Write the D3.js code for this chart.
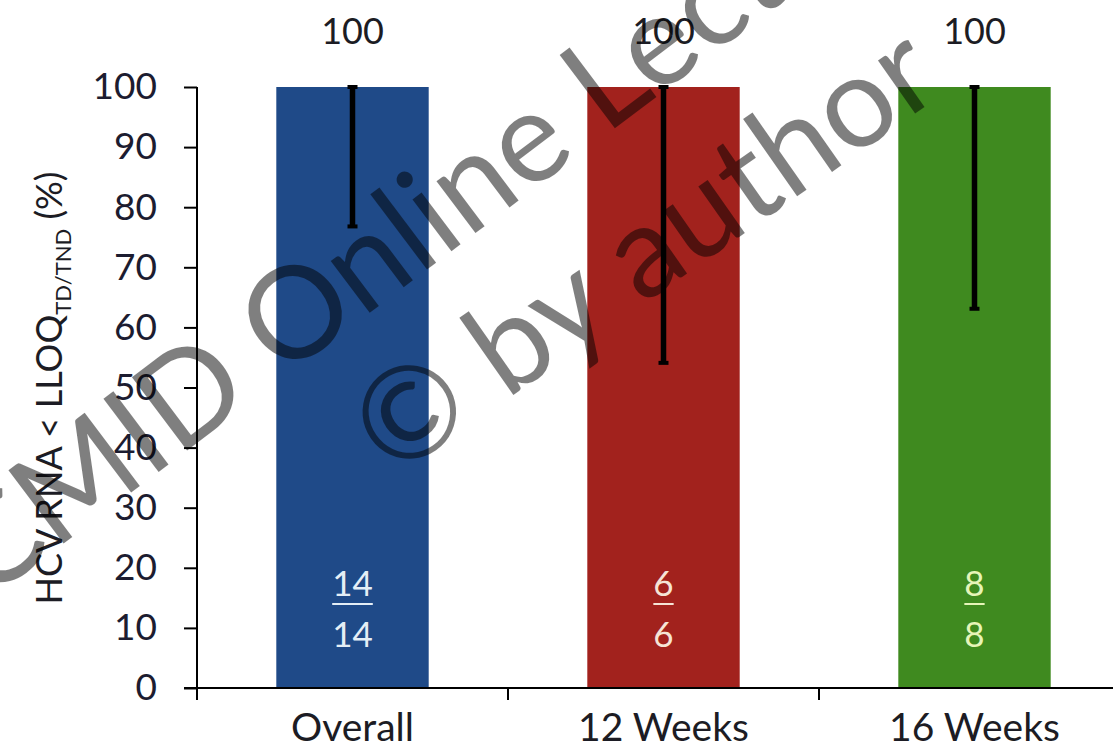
<!DOCTYPE html>
<html>
<head>
<meta charset="utf-8">
<script src="https://cdn.jsdelivr.net/npm/d3@7"></script>
<style>
  html, body { margin: 0; padding: 0; background: #fff; }
  svg { display: block; }
  text { font-family: Lato, "Open Sans", "Liberation Sans", sans-serif; }
</style>
</head>
<body>
<svg id="chart" width="1113" height="750"></svg>
<script>
// Response rates by treatment duration
const categories = ["Overall", "12 Weeks", "16 Weeks"];
const percentValues = [100, 100, 100];
const ciLower = [76.8, 54.1, 63.1];
const responders = [14, 6, 8];
const totals = [14, 6, 8];
const barColors = ["#1f4a88", "#a2221d", "#3f8a1f"];
const fractionColors = ["#e4eef6", "#f6e4d6", "#e6f5b8"];
const yTicks = [0, 10, 20, 30, 40, 50, 60, 70, 80, 90, 100];

const svg = d3.select("#chart");

const y = d3.scaleLinear().domain([0, 100]).range([688, 87]);
const x = d3.scaleBand().domain(categories).range([197, 1130])
  .paddingInner(0.51).paddingOuter(0.255);

// Bars
svg.append("g").selectAll("rect")
  .data(categories)
  .join("rect")
  .attr("x", d => x(d))
  .attr("width", x.bandwidth())
  .attr("y", (d, i) => y(percentValues[i]))
  .attr("height", (d, i) => y(0) - y(percentValues[i]))
  .attr("fill", (d, i) => barColors[i]);

// Error bars (lower confidence bound)
const eb = svg.append("g");
categories.forEach((c, i) => {
  const cx = x(c) + x.bandwidth() / 2;
  eb.append("line")
    .attr("x1", cx).attr("x2", cx)
    .attr("y1", y(percentValues[i])).attr("y2", y(ciLower[i]))
    .attr("stroke", "#000").attr("stroke-width", 5.5);
  [percentValues[i], ciLower[i]].forEach(v => {
    eb.append("line")
      .attr("x1", cx - 5).attr("x2", cx + 5)
      .attr("y1", y(v)).attr("y2", y(v))
      .attr("stroke", "#000").attr("stroke-width", 4);
  });
});

// Y axis
const yAxis = svg.append("g")
  .attr("transform", "translate(197,0)")
  .call(d3.axisLeft(y).tickValues(yTicks).tickSize(13).tickPadding(27));
yAxis.select(".domain").attr("stroke", "#000").attr("stroke-width", 2)
  .attr("d", `M0,${y(100)}V${y(0) + 12}`);
yAxis.selectAll(".tick line").attr("stroke", "#000").attr("stroke-width", 2);
yAxis.selectAll(".tick text")
  .attr("fill", "#1c1c30")
  .style("font-size", "37px")
  .style("font-family", "Lato, 'Open Sans', sans-serif");

// X axis baseline with category separators
const step = x.step();
const xBase = svg.append("g");
xBase.append("line")
  .attr("x1", 184).attr("x2", 1113)
  .attr("y1", y(0)).attr("y2", y(0))
  .attr("stroke", "#000").attr("stroke-width", 2);
const seps = categories.slice(0, -1).map(c => x(c) + x.bandwidth() + (step - x.bandwidth()) / 2);
xBase.selectAll(".sep")
  .data(seps)
  .join("line")
  .attr("x1", d => d).attr("x2", d => d)
  .attr("y1", y(0)).attr("y2", y(0) + 12)
  .attr("stroke", "#000").attr("stroke-width", 2);

// Category labels
svg.append("g").selectAll("text")
  .data(categories)
  .join("text")
  .attr("x", d => x(d) + x.bandwidth() / 2)
  .attr("y", 741)
  .attr("text-anchor", "middle")
  .attr("fill", "#1c1c24")
  .style("font-size", "39px")
  .text(d => d);

// Value labels above bars
svg.append("g").selectAll("text")
  .data(categories)
  .join("text")
  .attr("x", d => x(d) + x.bandwidth() / 2)
  .attr("y", 44)
  .attr("text-anchor", "middle")
  .attr("fill", "#1c1c24")
  .style("font-size", "36px")
  .text((d, i) => percentValues[i]);

// Fractions inside bars
const fr = svg.append("g");
categories.forEach((c, i) => {
  const cx = x(c) + x.bandwidth() / 2;
  const num = fr.append("text")
    .attr("x", cx).attr("y", 596)
    .attr("text-anchor", "middle")
    .attr("fill", fractionColors[i])
    .style("font-size", "35px")
    .text(responders[i]);
  const w = num.node().getComputedTextLength();
  fr.append("line")
    .attr("x1", cx - w / 2).attr("x2", cx + w / 2)
    .attr("y1", 604).attr("y2", 604)
    .attr("stroke", fractionColors[i]).attr("stroke-width", 2);
  fr.append("text")
    .attr("x", cx).attr("y", 647)
    .attr("text-anchor", "middle")
    .attr("fill", fractionColors[i])
    .style("font-size", "35px")
    .text(totals[i]);
});

// Y axis title with subscript
const yTitle = svg.append("text")
  .attr("transform", "translate(62,388) rotate(-90)")
  .attr("text-anchor", "middle")
  .attr("fill", "#1c1c24")
  .style("font-size", "36px");
yTitle.append("tspan").text("HCV RNA < LLOQ");
yTitle.append("tspan").attr("dy", 9).style("font-size", "22px").text("TD/TND");
yTitle.append("tspan").attr("dy", -9).text(" (%)");

// Watermark drawn over the chart
const wm = svg.append("g").attr("class", "watermark")
  .attr("fill", "#000").attr("fill-opacity", 0.5)
  .style("font-family", "'Liberation Sans', Arial, sans-serif")
  .style("font-size", "128px");
wm.append("text")
  .attr("transform", "translate(-14,602) rotate(-37)")
  .text("CMID Online Lecture");
wm.append("text")
  .attr("transform", "translate(392,480) rotate(-35)")
  .text("© by author");
</script>
</body>
</html>
